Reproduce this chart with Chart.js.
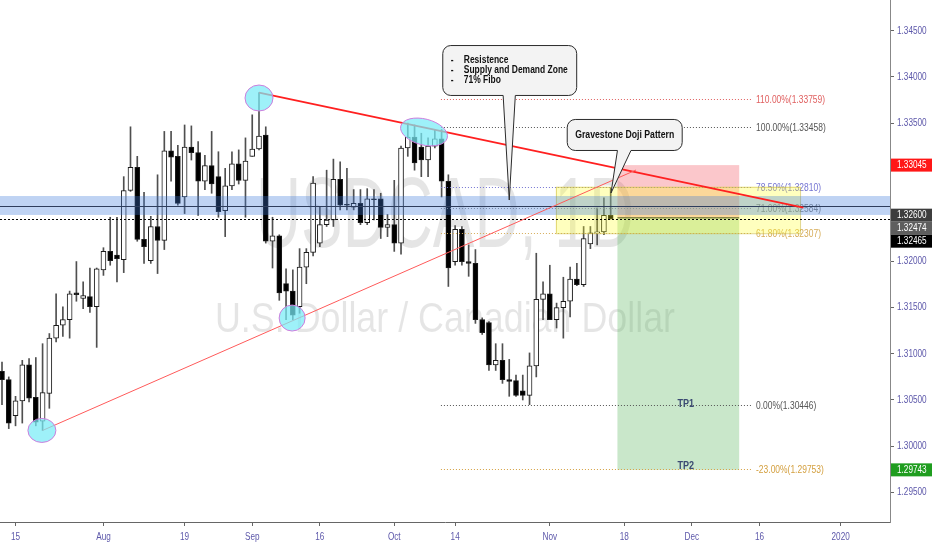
<!DOCTYPE html>
<html>
<head>
<meta charset="utf-8">
<script src="https://cdn.jsdelivr.net/npm/chart.js@4.4.0/dist/chart.umd.min.js"></script>
<style>
  html, body { margin: 0; padding: 0; background: #fff; }
  #wrap { width: 932px; height: 550px; }
</style>
</head>
<body>
<div id="wrap"><canvas id="chart" width="932" height="550"></canvas></div>
<script>
// USDCAD daily candles (11 Jul - 14 Nov 2019)
const dates = [
  '2019-07-11','2019-07-12','2019-07-15','2019-07-16','2019-07-17','2019-07-18','2019-07-19',
  '2019-07-22','2019-07-23','2019-07-24','2019-07-25','2019-07-26','2019-07-29','2019-07-30','2019-07-31',
  '2019-08-01','2019-08-02','2019-08-05','2019-08-06','2019-08-07','2019-08-08','2019-08-09',
  '2019-08-12','2019-08-13','2019-08-14','2019-08-15','2019-08-16','2019-08-19','2019-08-20',
  '2019-08-21','2019-08-22','2019-08-23','2019-08-26','2019-08-27','2019-08-28','2019-08-29','2019-08-30',
  '2019-09-02','2019-09-03','2019-09-04','2019-09-05','2019-09-06','2019-09-09','2019-09-10',
  '2019-09-11','2019-09-12','2019-09-13','2019-09-16','2019-09-17','2019-09-18','2019-09-19',
  '2019-09-20','2019-09-23','2019-09-24','2019-09-25','2019-09-26','2019-09-27','2019-09-30',
  '2019-10-01','2019-10-02','2019-10-03','2019-10-04','2019-10-07','2019-10-08','2019-10-09',
  '2019-10-10','2019-10-11','2019-10-14','2019-10-15','2019-10-16','2019-10-17','2019-10-18',
  '2019-10-21','2019-10-22','2019-10-23','2019-10-24','2019-10-25','2019-10-28','2019-10-29',
  '2019-10-30','2019-10-31','2019-11-01','2019-11-04','2019-11-05','2019-11-06','2019-11-07',
  '2019-11-08','2019-11-11','2019-11-12','2019-11-13','2019-11-14'
];
const opens = [
  1.3081,1.3072,1.3033,1.3049,1.3088,1.3053,1.3027,1.3057,1.3117,1.3131,1.3137,1.3166,1.3160,1.3162,1.3151,
  1.3191,1.3211,1.3207,1.3202,1.3277,1.3302,1.3224,1.3201,1.3238,1.3223,1.3320,1.3314,1.3270,1.3324,1.3318,
  1.3287,1.3304,1.3292,1.3255,1.3282,1.3306,1.3288,1.3314,1.3322,1.3337,1.3222,1.3228,1.3176,1.3168,1.3151,
  1.3194,1.3210,1.3220,1.3240,1.3245,1.3289,1.3262,1.3259,1.3263,1.3242,1.3268,1.3268,1.3237,1.3240,1.3220,
  1.3323,1.3335,1.3324,1.3310,1.3325,1.3333,1.3287,1.3200,1.3235,1.3200,1.3198,1.3137,1.3134,1.3088,1.3093,
  1.3072,1.3071,1.3060,1.3055,1.3087,1.3159,1.3165,1.3137,1.3150,1.3157,1.3181,1.3175,1.3219,1.3231,1.3232,
  1.3250
];
const highs = [
  1.3091,1.3075,1.3054,1.3093,1.3095,1.3096,1.3111,1.3122,1.3165,1.3151,1.3168,1.3200,1.3178,1.3193,1.3193,
  1.3215,1.3248,1.3248,1.3292,1.3346,1.3314,1.3275,1.3249,1.3294,1.3341,1.3341,1.3326,1.3348,1.3347,1.3330,
  1.3315,1.3341,1.3319,1.3301,1.3319,1.3321,1.3334,1.3359,1.3383,1.3346,1.3248,1.3229,1.3192,1.3191,1.3214,
  1.3214,1.3292,1.3259,1.3299,1.3311,1.3308,1.3301,1.3278,1.3278,1.3279,1.3278,1.3274,1.3251,1.3288,1.3325,
  1.3350,1.3348,1.3339,1.3334,1.3343,1.3343,1.3294,1.3239,1.3238,1.3218,1.3213,1.3139,1.3135,1.3111,1.3111,
  1.3094,1.3077,1.3077,1.3101,1.3209,1.3178,1.3196,1.3155,1.3183,1.3194,1.3198,1.3238,1.3238,1.3258,1.3269,
  1.3280
];
const lows = [
  1.3045,1.3019,1.3022,1.3025,1.3048,1.3022,1.3017,1.3041,1.3113,1.3119,1.3117,1.3157,1.3149,1.3145,1.3107,
  1.3185,1.3196,1.3178,1.3188,1.3276,1.3222,1.3198,1.3198,1.3187,1.3213,1.3287,1.3261,1.3252,1.3310,1.3250,
  1.3278,1.3274,1.3248,1.3227,1.3278,1.3284,1.3248,1.3314,1.3321,1.3220,1.3193,1.3158,1.3137,1.3137,1.3144,
  1.3176,1.3206,1.3216,1.3238,1.3238,1.3256,1.3256,1.3256,1.3240,1.3240,1.3245,1.3225,1.3227,1.3211,1.3208,
  1.3314,1.3299,1.3292,1.3292,1.3323,1.3270,1.3173,1.3196,1.3196,1.3184,1.3133,1.3121,1.3082,1.3082,1.3068,
  1.3054,1.3054,1.3050,1.3045,1.3075,1.3137,1.3137,1.3128,1.3117,1.3140,1.3174,1.3173,1.3214,1.3218,1.3229,
  1.3246
];
const closes = [
  1.3072,1.3025,1.3049,1.3088,1.3052,1.3026,1.3058,1.3117,1.3131,1.3137,1.3165,1.3164,1.3163,1.3151,1.3192,
  1.3211,1.3201,1.3203,1.3277,1.3302,1.3224,1.3216,1.3238,1.3223,1.3320,1.3313,1.3263,1.3324,1.3318,1.3287,
  1.3304,1.3284,1.3254,1.3282,1.3306,1.3288,1.3309,1.3322,1.3336,1.3222,1.3228,1.3166,1.3168,1.3142,1.3194,
  1.3210,1.3285,1.3240,1.3245,1.3289,1.3261,1.3261,1.3263,1.3242,1.3268,1.3267,1.3237,1.3240,1.3220,1.3323,
  1.3335,1.3307,1.3310,1.3325,1.3333,1.3287,1.3193,1.3235,1.3200,1.3198,1.3137,1.3123,1.3088,1.3093,1.3072,
  1.3070,1.3055,1.3055,1.3087,1.3159,1.3165,1.3137,1.3150,1.3157,1.3181,1.3175,1.3225,1.3231,1.3232,1.3250,
  1.32465
];

// time axis: bar number of each label (bar 1 = 11 Jul), future bars continue on weekdays
const tickBars   = [3, 16, 28, 38, 48, 59, 68, 82, 93, 103, 113, 125];
const tickLabels = ['15', 'Aug', '19', 'Sep', '16', 'Oct', '14', 'Nov', '18', 'Dec', '16', '2020'];
const priceTicks = [1.345, 1.340, 1.335, 1.320, 1.315, 1.310, 1.305, 1.300, 1.295];

// fibonacci retracement (0% = 1.30446, 100% = 1.33458)
const fibLevels = [110, 100, 78.5, 71, 61.8, 0, -23];
const fibPrices = [1.33759, 1.33458, 1.32810, 1.32584, 1.32307, 1.30446, 1.29753];
const fibColors = ['#e06060', '#555555', '#7474d2', '#8a8a8a', '#d6ac58', '#555555', '#d4a040'];

// short position tool
const entryPrice = 1.32474;
const stopPrice = 1.33045;
const targetPrice = 1.29743;
const lastPrice = 1.32465;
const sdLevel = 1.32600;

const FONT = "'Liberation Sans', Arial, sans-serif";
const AXIS_TEXT = '#5d58aa';
const SQUEEZE = 0.77;   // the screenshot's text is horizontally condensed

// text drawn squeezed horizontally around its anchor
function sText(ctx, text, x, y, sx) {
  ctx.save();
  ctx.translate(x, y);
  ctx.scale(sx, 1);
  ctx.fillText(text, 0, 0);
  ctx.restore();
}

// drawings are placed in chart units: [bar number, price]
const drawings = {
  id: 'drawings',
  beforeDatasetsDraw(chart) {
    const { ctx, chartArea: a } = chart;
    ctx.save();
    ctx.beginPath();
    ctx.rect(a.left, a.top, a.right - a.left, a.bottom - a.top);
    ctx.clip();
    ctx.fillStyle = 'rgba(0,0,0,0.10)';
    ctx.textAlign = 'center';
    ctx.textBaseline = 'alphabetic';
    const cx = (a.left + a.right) / 2;
    const cy = (a.top + a.bottom) / 2;
    const wm = [
      { text: 'USDCAD, 1D', size: 100, width: 378, dy: -14 },
      { text: 'U.S. Dollar / Canadian Dollar', size: 42, width: 460, dy: 71 }
    ];
    wm.forEach(w => {
      ctx.font = w.size + 'px ' + FONT;
      const m = ctx.measureText(w.text).width;
      sText(ctx, w.text, cx, cy + w.dy, w.width / m);
    });
    ctx.restore();
  },
  afterDatasetsDraw(chart) {
    const { ctx, chartArea: a } = chart;
    const xs = chart.scales.x, ys = chart.scales.y;
    const px = v => xs.getPixelForValue(v);
    const py = v => ys.getPixelForValue(v);
    ctx.save();
    ctx.beginPath();
    ctx.rect(a.left, a.top, a.right - a.left, a.bottom - a.top);
    ctx.clip();

    // position tool (short)
    const pL = px(92), pR = px(110);
    ctx.fillStyle = 'rgba(242,54,69,0.28)';
    ctx.fillRect(pL, py(stopPrice), pR - pL, py(entryPrice) - py(stopPrice));
    ctx.fillStyle = 'rgba(76,175,80,0.30)';
    ctx.fillRect(pL, py(entryPrice), pR - pL, py(targetPrice) - py(entryPrice));
    ctx.strokeStyle = '#555';
    ctx.lineWidth = 1.5;
    ctx.beginPath();
    ctx.moveTo(pL, py(entryPrice));
    ctx.lineTo(pR, py(entryPrice));
    ctx.stroke();

    // fib levels
    const fL = px(65.9), fR = px(111.9);
    ctx.lineWidth = 1;
    ctx.font = '11px ' + FONT;
    ctx.textAlign = 'left';
    ctx.textBaseline = 'middle';
    fibLevels.forEach((lv, i) => {
      const y = Math.round(py(fibPrices[i])) + 0.5;
      ctx.setLineDash([1, 2]);
      ctx.strokeStyle = fibColors[i];
      ctx.beginPath();
      ctx.moveTo(fL, y);
      ctx.lineTo(fR, y);
      ctx.stroke();
      ctx.setLineDash([]);
      ctx.fillStyle = fibColors[i];
      sText(ctx, lv.toFixed(2) + '%(' + fibPrices[i].toFixed(5) + ')', fR + 4, y, SQUEEZE);
    });

    // yellow fib zone
    const yL = px(82.9), yR = px(119);
    ctx.fillStyle = 'rgba(255,255,40,0.30)';
    ctx.fillRect(yL, py(1.32810), yR - yL, py(1.32307) - py(1.32810));
    ctx.strokeStyle = 'rgba(200,180,50,0.55)';
    ctx.strokeRect(yL + 0.5, py(1.32810) + 0.5, yR - yL, py(1.32307) - py(1.32810));

    // supply & demand band
    ctx.fillStyle = 'rgba(60,120,220,0.33)';
    ctx.fillRect(a.left, py(1.32710), a.right - a.left, py(1.32505) - py(1.32710));
    ctx.strokeStyle = '#2e3d5c';
    ctx.beginPath();
    ctx.moveTo(a.left, Math.round(py(sdLevel)) + 0.5);
    ctx.lineTo(a.right, Math.round(py(sdLevel)) + 0.5);
    ctx.stroke();

    // last price line
    ctx.strokeStyle = '#000';
    ctx.setLineDash([2, 2]);
    ctx.beginPath();
    ctx.moveTo(a.left, Math.round(py(lastPrice)) + 0.5);
    ctx.lineTo(a.right, Math.round(py(lastPrice)) + 0.5);
    ctx.stroke();
    ctx.setLineDash([]);

    // trend lines
    const seg = (b1, p1, b2, p2, color, w) => {
      ctx.strokeStyle = color;
      ctx.lineWidth = w;
      ctx.beginPath();
      ctx.moveTo(px(b1), py(p1));
      ctx.lineTo(px(b2), py(p2));
      ctx.stroke();
    };
    seg(39, 1.3383, 119.5, 1.32584, '#ff2020', 1.8);
    seg(7, 1.3017, 94.75, 1.32992, '#ff5a5a', 1);

    // marked swing points
    const ellipses = [
      [6.9, 1.3017, 14, 12, 0],
      [39, 1.33772, 14, 13, 0],
      [43.9, 1.31388, 13, 13, 0],
      [63.4, 1.33404, 24, 13, 0.25]
    ];
    ellipses.forEach(([b, p, rx, ry, rot]) => {
      ctx.beginPath();
      ctx.ellipse(px(b), py(p), rx, ry, rot, 0, Math.PI * 2);
      ctx.fillStyle = 'rgba(120,236,246,0.72)';
      ctx.fill();
      ctx.strokeStyle = '#cc7ddd';
      ctx.lineWidth = 1;
      ctx.stroke();
    });

    // callouts
    const callout = (b1, pTop, b2, pBot, base1, base2, tipB, tipP) => {
      const x0 = px(b1) + 0.5, x1 = px(b2) + 0.5, y0 = py(pTop) + 0.5, y1 = py(pBot) + 0.5;
      const r = 8;
      const bx1 = px(base1), bx2 = px(base2), tx = px(tipB), ty = py(tipP);
      ctx.beginPath();
      ctx.moveTo(x0 + r, y0);
      ctx.arcTo(x1, y0, x1, y1, r);
      ctx.arcTo(x1, y1, x0, y1, r);
      ctx.lineTo(bx2, y1);
      ctx.lineTo(tx, ty);
      ctx.lineTo(bx1, y1);
      ctx.arcTo(x0, y1, x0, y0, r);
      ctx.arcTo(x0, y0, x1, y0, r);
      ctx.closePath();
      ctx.fillStyle = '#f3f3f3';
      ctx.fill();
      ctx.strokeStyle = '#2b2b2b';
      ctx.lineWidth = 1;
      ctx.stroke();
      return { x0, x1, y0, y1 };
    };
    const c1 = callout(66.1, 1.34346, 85.9, 1.33805, 75.1, 76.9, 76.0, 1.32667);
    ctx.fillStyle = '#111';
    ctx.font = 'bold 11px ' + FONT;
    ctx.textAlign = 'left';
    ctx.textBaseline = 'middle';
    ['Resistence', 'Supply and Demand Zone', '71% Fibo'].forEach((t, i) => {
      const y = c1.y0 + 14 + i * 10.3;
      sText(ctx, '-', c1.x0 + 8, y, SQUEEZE);
      sText(ctx, t, c1.x0 + 21, y, SQUEEZE);
    });
    const c2 = callout(84.5, 1.33545, 101.5, 1.33209, 92.0, 94.0, 91.05, 1.32743);
    ctx.fillStyle = '#111';
    ctx.textAlign = 'center';
    sText(ctx, 'Gravestone Doji Pattern', (c2.x0 + c2.x1) / 2, (c2.y0 + c2.y1) / 2 + 0.5, 0.79);

    // targets
    ctx.font = 'bold 11px ' + FONT;
    ctx.fillStyle = '#3b4a72';
    sText(ctx, 'TP1', px(102.1), py(1.3046), 0.82);
    sText(ctx, 'TP2', px(102.1), py(1.2979), 0.82);

    ctx.restore();
  },
  afterDraw(chart) {
    const { ctx, chartArea: a } = chart;
    const xs = chart.scales.x, ys = chart.scales.y;
    ctx.save();

    // axis labels (condensed like the screenshot)
    ctx.fillStyle = AXIS_TEXT;
    ctx.font = '10px ' + FONT;
    ctx.textAlign = 'left';
    ctx.textBaseline = 'middle';
    priceTicks.forEach(v => sText(ctx, v.toFixed(5), a.right + 7, ys.getPixelForValue(v), 0.82));
    ctx.font = '10.5px ' + FONT;
    ctx.textAlign = 'center';
    tickBars.forEach((b, i) => sText(ctx, tickLabels[i], xs.getPixelForValue(b), a.bottom + 15, 0.78));

    // price badges on the axis; nudge keeps the crowded ones apart as in the picture
    const badges = [
      { v: stopPrice, bg: '#ff1717', nudge: 0 },
      { v: sdLevel, bg: '#3d3d3d', nudge: 9 },
      { v: entryPrice, bg: '#5e5e5e', nudge: 0 },
      { v: lastPrice, bg: '#000000', nudge: 0 },
      { v: targetPrice, bg: '#1f9d1f', nudge: 0 }
    ];
    const h = 13;
    let prev = -Infinity;
    ctx.font = '10px ' + FONT;
    ctx.textAlign = 'left';
    badges.forEach(b => {
      let y = ys.getPixelForValue(b.v) + b.nudge;
      if (y < prev + h) y = prev + h;
      prev = y;
      ctx.fillStyle = b.bg;
      ctx.fillRect(a.right + 1, y - h / 2, chart.width - a.right - 1, h);
      ctx.fillStyle = '#fff';
      sText(ctx, b.v.toFixed(5), a.right + 7, y, 0.82);
    });
    ctx.restore();
  }
};

const bars = dates.map((d, i) => i + 1);

new Chart(document.getElementById('chart').getContext('2d'), {
  type: 'bar',
  data: {
    datasets: [
      {
        label: 'wick',
        data: bars.map((b, i) => ({ x: b, y: [lows[i], highs[i]] })),
        backgroundColor: '#4f4f4f',
        barThickness: 1,
        grouped: false,
        order: 2
      },
      {
        label: 'body',
        data: bars.map((b, i) => ({ x: b, y: [opens[i], closes[i]] })),
        backgroundColor: c => closes[c.dataIndex] >= opens[c.dataIndex] ? '#ffffff' : '#000000',
        borderColor: '#1a1a1a',
        borderWidth: 1,
        borderSkipped: false,
        barThickness: 5,
        minBarLength: 1,
        grouped: false,
        order: 1
      }
    ]
  },
  options: {
    responsive: false,
    animation: false,
    layout: { padding: 0 },
    plugins: { legend: { display: false }, tooltip: { enabled: false } },
    scales: {
      x: {
        type: 'linear',
        min: 0.704,
        max: 132.3,
        offset: false,
        grid: { offset: false, drawOnChartArea: false, drawTicks: true, tickLength: 4, color: '#666' },
        border: { display: true, color: '#666' },
        afterBuildTicks: s => { s.ticks = tickBars.map(v => ({ value: v })); },
        ticks: { display: false, autoSkip: false },
        afterFit: s => { s.height = 28; s.paddingLeft = 0; s.paddingRight = 0; }
      },
      y: {
        position: 'right',
        min: 1.29178,
        max: 1.34834,
        beginAtZero: false,
        grid: { drawOnChartArea: false, drawTicks: true, tickLength: 4, color: '#666' },
        border: { display: true, color: '#888' },
        afterBuildTicks: s => { s.ticks = priceTicks.map(v => ({ value: v })); },
        ticks: { display: false },
        afterFit: s => { s.width = 42; s.paddingTop = 0; s.paddingBottom = 0; }
      }
    }
  },
  plugins: [drawings]
});
</script>
</body>
</html>
